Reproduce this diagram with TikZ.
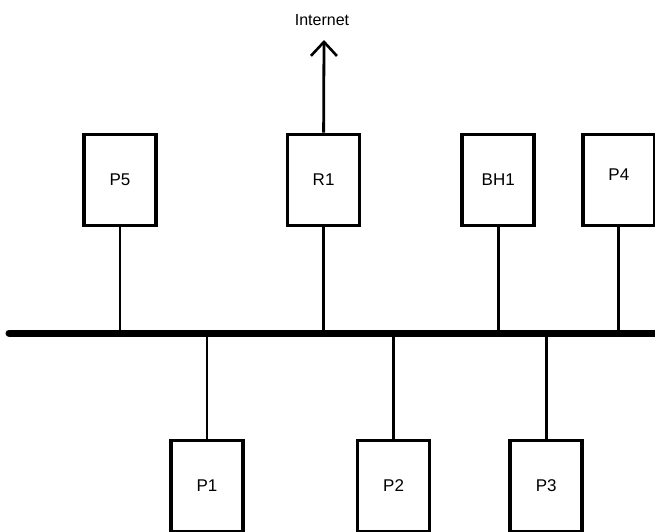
\documentclass[tikz,border=0pt]{standalone}
\usepackage{fontspec}
\setmainfont{Liberation Sans}
\usetikzlibrary{positioning,arrows.meta}

\begin{document}
\begin{tikzpicture}[
    x=1pt, y=1pt,
    host/.style={draw, line width=3.6pt, minimum width=72pt, minimum height=91pt, inner sep=0pt, font=\fontsize{17}{19}\selectfont},
    drop/.style={line width=2.8pt},
    bus/.style={line width=7pt},
    up/.style={-{Straight Barb[length=14pt, width=26pt, line width=2.6pt]}, line width=2.8pt},
]
\useasboundingbox (0,0) rectangle (655,531);

% Bus
\coordinate (busL) at (9,198);
\coordinate (busR) at (662,198);
\draw[bus, line cap=round] (busL) -- (busR);

% Upper row
\node[host] (p5) at (120,351) {P5};
\node[host, right=128pt of p5] (r1) {R1};
\node[host, right=99pt of r1] (bh1) {BH1};
\node[host, right=45pt of bh1] (p4) {};
\node[font=\fontsize{17}{19}\selectfont] (p4lbl) at ([yshift=5pt]p4.center) {P4};

% Lower row
\node[host] (p1) at (207,45) {P1};
\node[host, right=111pt of p1] (p2) {P2};
\node[host, right=77pt of p2] (p3) {P3};

% Internet
\node[font=\fontsize{16}{18}\selectfont] (inet) at (322,511) {Internet};
\coordinate (inetTip) at (324,491);
\draw[up] (r1.north) -- (inetTip);

% Drops to bus
\foreach \h in {p5,r1,bh1,p4}
    \draw[drop] (\h.south) -- (\h.south |- busL);
\foreach \h in {p1,p2,p3}
    \draw[drop] (\h.north) -- (\h.north |- busL);
\end{tikzpicture}
\end{document}
